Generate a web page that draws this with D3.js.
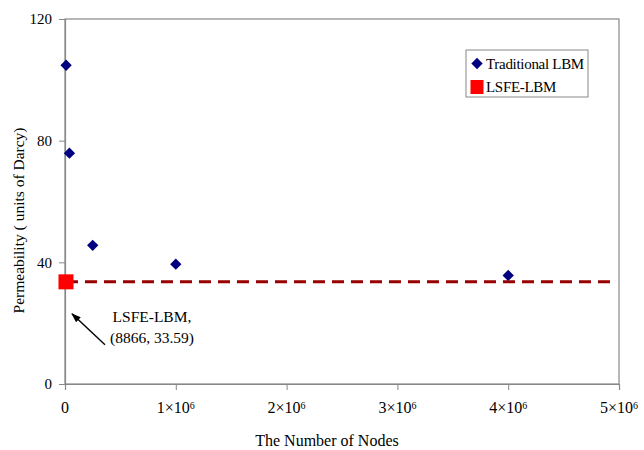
<!DOCTYPE html>
<html>
<head>
<meta charset="utf-8">
<script src="https://cdn.jsdelivr.net/npm/d3@7"></script>
<style>
  body { margin: 0; background: #fff; }
  text { font-family: "Liberation Serif", "Times New Roman", serif; fill: #000; }
</style>
</head>
<body>
<div id="chart"></div>
<script>
// data
const tradNodes = [10000, 40000, 250000, 1000000, 4000000];
const tradPerm = [104.8, 75.9, 45.6, 39.4, 35.7];
const lsfeNodes = [8866];
const lsfePerm = [33.59];
const refLineNodes = [8866, 4920000];   // dashed reference line at LSFE value
const xTicks = [0, 1e6, 2e6, 3e6, 4e6, 5e6];
const yTicks = [0, 40, 80, 120];
const legendLabels = ["Traditional LBM", "LSFE-LBM"];

const svgWidth = 644,
    svgHeight = 450,
    margin = { top: 19, right: 25, bottom: 66, left: 65 },
    width = svgWidth - margin.left - margin.right,
    height = svgHeight - margin.top - margin.bottom;

const axisColor = "#888";

var svg = d3.select("#chart").append("svg")
    .attr("width", svgWidth)
    .attr("height", svgHeight);

var g = svg.append("g")
    .attr("transform", `translate(${margin.left},${margin.top})`);

let xScale = d3.scaleLinear().domain([0, 5e6]).range([0, width]),
    yScale = d3.scaleLinear().domain([0, 120]).range([height, 0]);

// plot frame
g.append("rect")
    .attr("width", width)
    .attr("height", height)
    .attr("fill", "none")
    .attr("stroke", axisColor)
    .attr("stroke-width", 1.2);

// y axis
let yAxis = g.append("g")
    .call(d3.axisLeft(yScale).tickValues(yTicks).tickSize(6).tickPadding(7));
yAxis.select(".domain").attr("stroke", axisColor).attr("stroke-width", 1.2);
yAxis.selectAll(".tick line").attr("stroke", axisColor);
yAxis.selectAll(".tick text")
    .style("font-family", '"Liberation Serif", "Times New Roman", serif')
    .style("font-size", "15px");

// x axis
let xAxis = g.append("g")
    .attr("transform", `translate(0,${height})`)
    .call(d3.axisBottom(xScale).tickValues(xTicks).tickSize(6).tickFormat(""));
xAxis.select(".domain").attr("stroke", axisColor).attr("stroke-width", 1.2);
xAxis.selectAll(".tick line").attr("stroke", axisColor);

// x tick labels with superscript exponent
let xLab = g.append("g").selectAll("text")
    .data(xTicks)
    .join("text")
    .attr("x", (d) => xScale(d))
    .attr("y", height + 29)
    .attr("text-anchor", "middle")
    .style("font-size", "16px");
xLab.each(function (d) {
    let t = d3.select(this);
    if (d === 0) { t.text("0"); return; }
    t.append("tspan").text(`${d / 1e6}\u00d710`);
    t.append("tspan").attr("dy", "-0.45em").style("font-size", "10px").text("6");
});

// axis titles
g.append("text")
    .attr("x", 262)
    .attr("y", height + 62)
    .attr("text-anchor", "middle")
    .style("font-size", "16px")
    .text("The Number of Nodes");
g.append("text")
    .attr("transform", `translate(-41, ${height / 2 + 19}) rotate(-90)`)
    .attr("text-anchor", "middle")
    .style("font-size", "15.5px")
    .text("Permeability ( units of Darcy)");

// dashed reference line at LSFE-LBM value
g.append("line")
    .attr("x1", xScale(refLineNodes[0]))
    .attr("x2", xScale(refLineNodes[1]))
    .attr("y1", yScale(lsfePerm[0]))
    .attr("y2", yScale(lsfePerm[0]))
    .attr("stroke", "#990000")
    .attr("stroke-width", 3)
    .attr("stroke-dasharray", "12,7");

// traditional LBM points
const diamond = d3.symbol(d3.symbolSquare, 64);
g.selectAll(".trad")
    .data(tradNodes)
    .join("path")
    .attr("class", "trad")
    .attr("d", diamond)
    .attr("transform", (d, i) => `translate(${xScale(d)},${yScale(tradPerm[i])}) rotate(45)`)
    .attr("fill", "#000080");

// LSFE-LBM point
g.selectAll(".lsfe")
    .data(lsfeNodes)
    .join("rect")
    .attr("class", "lsfe")
    .attr("x", (d) => xScale(d) - 7.5)
    .attr("y", (d, i) => yScale(lsfePerm[i]) - 7.5)
    .attr("width", 15)
    .attr("height", 15)
    .attr("fill", "#ff0000");

// annotation with arrow
svg.append("defs").append("marker")
    .attr("id", "arrow")
    .attr("viewBox", "0 0 10 10")
    .attr("refX", 9).attr("refY", 5)
    .attr("markerWidth", 7).attr("markerHeight", 7)
    .attr("orient", "auto")
    .append("path")
    .attr("d", "M0,1.5 L10,5 L0,8.5 Z")
    .attr("fill", "#000");

let ax = xScale(lsfeNodes[0]), ay = yScale(lsfePerm[0]);
g.append("line")
    .attr("x1", ax + 39).attr("y1", ay + 63)
    .attr("x2", ax + 6).attr("y2", ay + 32)
    .attr("stroke", "#000")
    .attr("stroke-width", 1.4)
    .attr("marker-end", "url(#arrow)");
g.append("text")
    .attr("x", ax + 86).attr("y", ay + 40)
    .attr("text-anchor", "middle")
    .style("font-size", "15.5px")
    .text(`${legendLabels[1]},`);
g.append("text")
    .attr("x", ax + 86).attr("y", ay + 61)
    .attr("text-anchor", "middle")
    .style("font-size", "15.5px")
    .text(`(${lsfeNodes[0]}, ${lsfePerm[0]})`);

// legend
let legend = svg.append("g").attr("transform", "translate(466,50)");
legend.append("rect")
    .attr("width", 122)
    .attr("height", 47)
    .attr("fill", "#fff")
    .attr("stroke", axisColor);
legend.append("path")
    .attr("d", diamond)
    .attr("transform", "translate(11,13.5) rotate(45)")
    .attr("fill", "#000080");
legend.append("rect")
    .attr("x", 4.5).attr("y", 30)
    .attr("width", 13).attr("height", 14)
    .attr("fill", "#ff0000");
legend.selectAll(".ltext")
    .data(legendLabels)
    .join("text")
    .attr("class", "ltext")
    .attr("x", 20)
    .attr("y", (d, i) => 19 + i * 23)
    .style("font-size", "15px")
    .style("letter-spacing", "-0.3px")
    .text((d) => d);
</script>
</body>
</html>
